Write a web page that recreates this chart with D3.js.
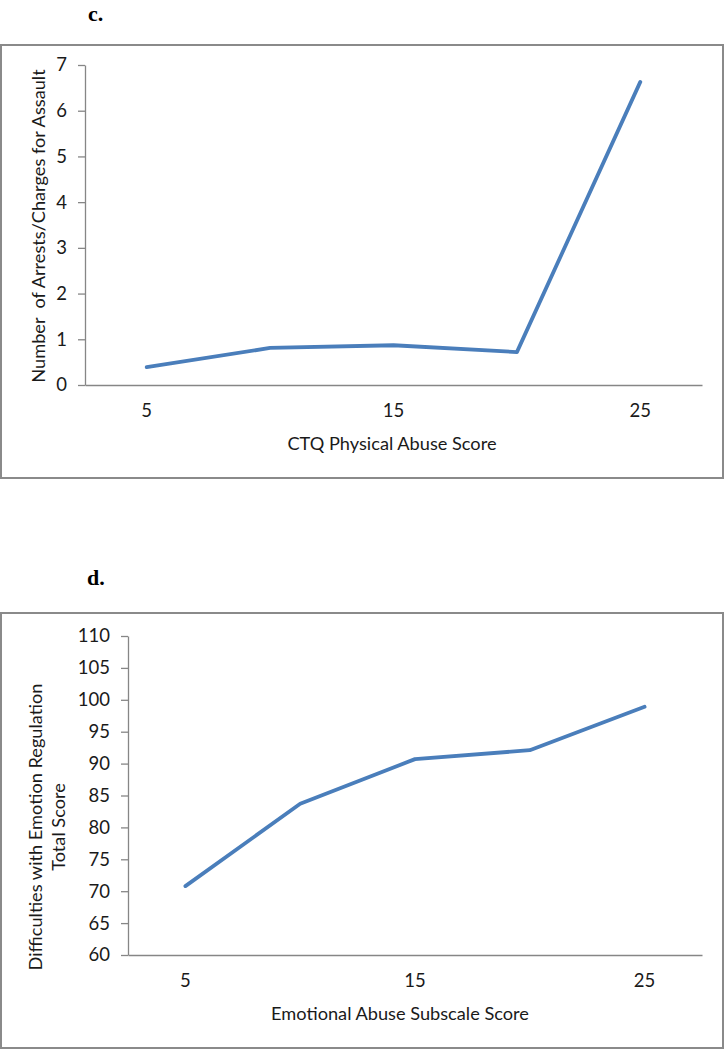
<!DOCTYPE html>
<html>
<head>
<meta charset="utf-8">
<script src="https://cdn.jsdelivr.net/npm/d3@7"></script>
<style>
  html, body { margin: 0; padding: 0; background: #fff; }
  svg { display: block; }
  .tick text, .lbl { font-family: Lato, "Open Sans", sans-serif; fill: #1a1a1a; white-space: pre; }
  .panel { font-family: "Liberation Serif", "Times New Roman", serif; font-weight: bold; fill: #000; }
</style>
</head>
<body>
<svg id="chart" width="725" height="1050"></svg>
<script>
// ---- Panel c data ----
const categoriesC = [5, 10, 15, 20, 25];
const arrestsC = [0.39, 0.81, 0.87, 0.72, 6.63];
const yTicksC = [0, 1, 2, 3, 4, 5, 6, 7];
const xTickLabelsC = [5, 15, 25];
const xTitleC = "CTQ Physical Abuse Score";
const yTitleC = ["Number  of Arrests/Charges for Assault"];

// ---- Panel d data ----
const categoriesD = [5, 10, 15, 20, 25];
const dersD = [70.8, 83.7, 90.7, 92.1, 98.9];
const yTicksD = [60, 65, 70, 75, 80, 85, 90, 95, 100, 105, 110];
const xTickLabelsD = [5, 15, 25];
const xTitleD = "Emotional Abuse Subscale Score";
const yTitleD = ["Difficulties with Emotion Regulation", "Total Score"];

const svg = d3.select("#chart");
const LINE = "#4A7EBB";
const AXIS = "#868686";
const TICK_FS = 18.5;
const TITLE_FS = 18.2;

function panel(cfg) {
  const g = svg.append("g");
  g.append("rect")
    .attr("x", cfg.frame[0]).attr("y", cfg.frame[1])
    .attr("width", cfg.frame[2]).attr("height", cfg.frame[3])
    .attr("fill", "#fff").attr("stroke", "#8a8a8a").attr("stroke-width", 2);

  g.append("text").attr("class", "panel")
    .attr("x", cfg.letterPos[0]).attr("y", cfg.letterPos[1])
    .attr("font-size", 22).text(cfg.letter);

  const x = d3.scaleBand().domain(cfg.cats).range([cfg.left, cfg.right]);
  const y = d3.scaleLinear().domain(cfg.yDomain).range([cfg.bottom, cfg.top]);

  const ya = g.append("g").attr("transform", `translate(${cfg.left},0)`)
    .call(d3.axisLeft(y).tickValues(cfg.yTicks).tickFormat(d3.format("d"))
      .tickSize(7).tickSizeOuter(0).tickPadding(11));
  ya.select(".domain").attr("stroke", AXIS).attr("stroke-width", 1.3);
  ya.selectAll(".tick line").attr("stroke", AXIS).attr("stroke-width", 1.3);
  ya.selectAll(".tick text").attr("font-size", TICK_FS).attr("fill", "#1a1a1a");

  const xa = g.append("g").attr("transform", `translate(0,${cfg.bottom})`)
    .call(d3.axisBottom(x).tickSize(0).tickSizeOuter(0).tickPadding(19)
      .tickFormat(d => cfg.xLabels.includes(d) ? d : ""));
  xa.select(".domain").attr("stroke", AXIS).attr("stroke-width", 1.3);
  xa.selectAll(".tick text").attr("font-size", TICK_FS).attr("fill", "#1a1a1a");

  const line = d3.line().x((d, i) => x(cfg.cats[i]) + x.bandwidth() / 2).y(d => y(d));
  g.append("path").datum(cfg.values)
    .attr("d", line).attr("fill", "none").attr("stroke", LINE)
    .attr("stroke-width", 3.8).attr("stroke-linejoin", "round").attr("stroke-linecap", "round");

  g.append("text").attr("class", "lbl")
    .attr("x", cfg.xTitlePos[0]).attr("y", cfg.xTitlePos[1])
    .attr("text-anchor", "middle").attr("dominant-baseline", "central")
    .attr("font-size", TITLE_FS).text(cfg.xTitle);

  cfg.yTitle.forEach((t, i) => {
    g.append("text").attr("class", "lbl")
      .attr("transform", `translate(${cfg.yTitleX[i]},${cfg.yTitleY}) rotate(-90)`)
      .attr("text-anchor", "middle").attr("dominant-baseline", "central")
      .attr("font-size", TITLE_FS).text(t);
  });
}

panel({
  frame: [1, 45, 722, 433], letter: "c.", letterPos: [88, 21],
  cats: categoriesC, values: arrestsC, yDomain: [0, 7], yTicks: yTicksC, xLabels: xTickLabelsC,
  left: 85, right: 702, top: 65, bottom: 385,
  xTitle: xTitleC, xTitlePos: [392, 443],
  yTitle: yTitleC, yTitleX: [38], yTitleY: 226
});

panel({
  frame: [1, 613, 722, 435], letter: "d.", letterPos: [87, 585],
  cats: categoriesD, values: dersD, yDomain: [60, 110], yTicks: yTicksD, xLabels: xTickLabelsD,
  left: 128, right: 702, top: 636, bottom: 955,
  xTitle: xTitleD, xTitlePos: [400, 1013],
  yTitle: yTitleD, yTitleX: [35, 58], yTitleY: 827
});
</script>
</body>
</html>
